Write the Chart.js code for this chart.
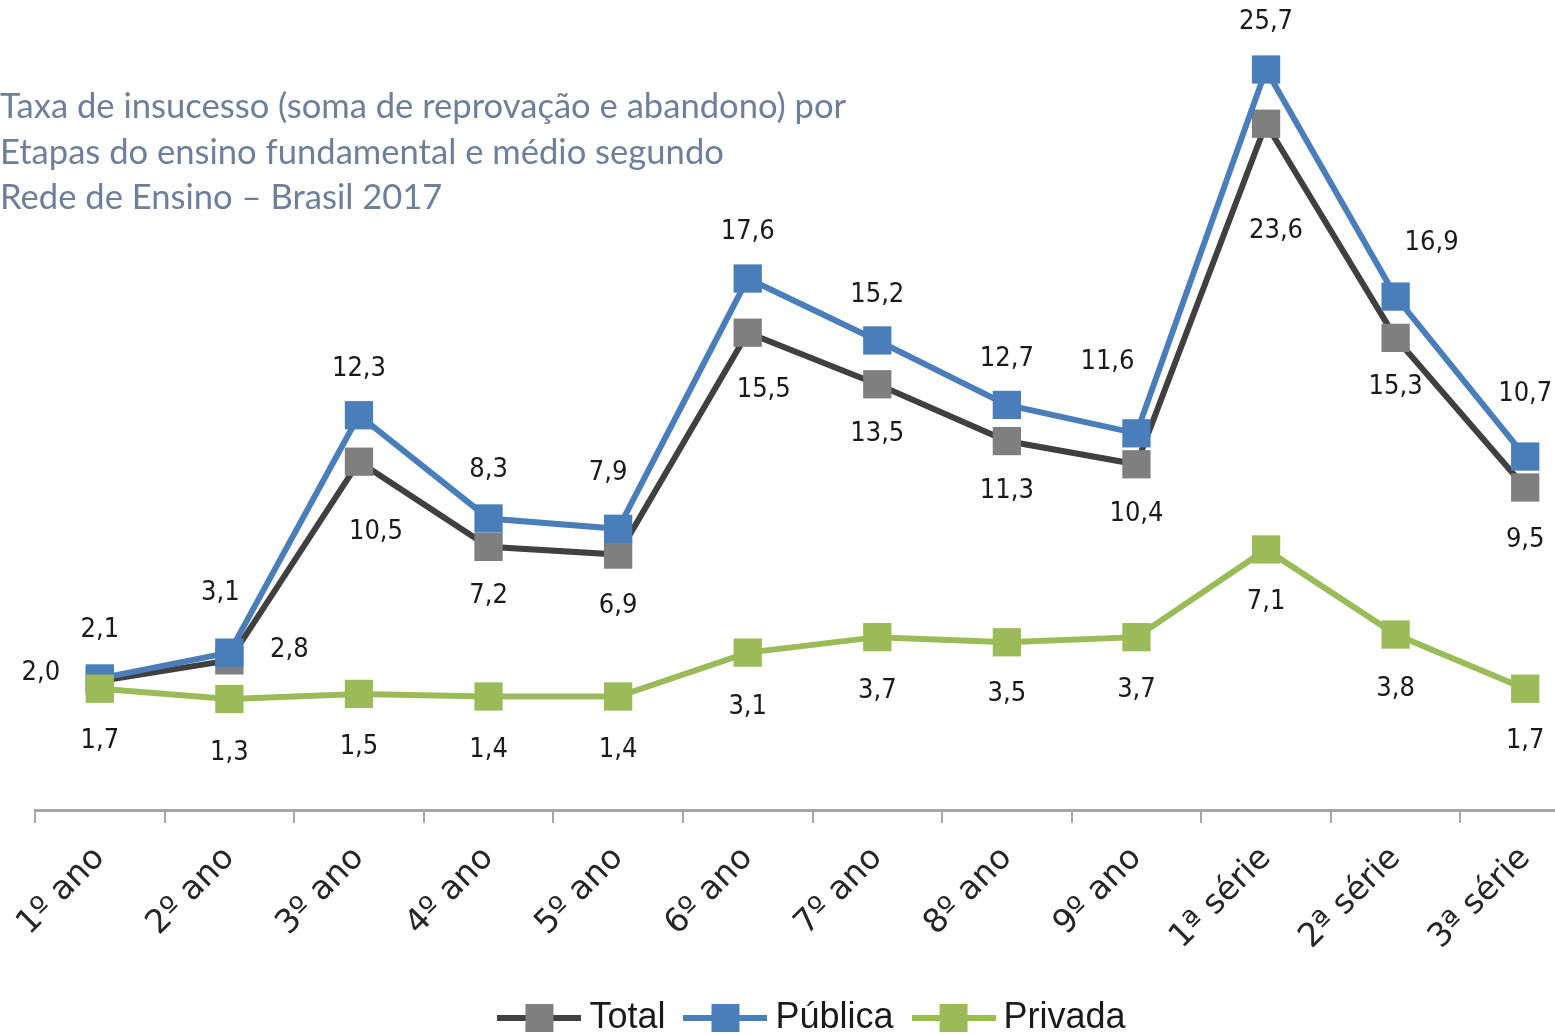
<!DOCTYPE html>
<html><head><meta charset="utf-8">
<script src="https://cdn.jsdelivr.net/npm/chart.js@4/dist/chart.umd.min.js"></script>
<style>html,body{margin:0;padding:0;overflow:hidden;background:#fff}#wrap{position:absolute;left:0;top:0;width:1610px;height:1046px}</style>
</head><body><div id="wrap"><canvas id="c" width="1610" height="1046"></canvas></div>
<script>
const categories = ['1º ano','2º ano','3º ano','4º ano','5º ano','6º ano','7º ano','8º ano','9º ano','1ª série','2ª série','3ª série'];
const totalValues   = [2.0, 2.8, 10.5, 7.2, 6.9, 15.5, 13.5, 11.3, 10.4, 23.6, 15.3, 9.5];
const publicaValues = [2.1, 3.1, 12.3, 8.3, 7.9, 17.6, 15.2, 12.7, 11.6, 25.7, 16.9, 10.7];
const privadaValues = [1.7, 1.3, 1.5, 1.4, 1.4, 3.1, 3.7, 3.5, 3.7, 7.1, 3.8, 1.7];
const seriesNames = ['Total', 'Pública', 'Privada'];
const titleLines = [
  'Taxa de insucesso (soma de reprovação e abandono) por',
  'Etapas do ensino fundamental e médio segundo',
  'Rede de Ensino – Brasil 2017'
];

// label placement (pixel offsets from each point)
const totalLabelOffsets = [[-59,-8],[60,-10],[17,70],[0,49],[0,51],[16,57],[0,50],[0,50],[0,50],[10,107],[0,49],[0,52]];
const publicaLabelOffsets = [[0,-48],[-9,-60],[0,-46],[0,-48],[-10,-56],[0,-47],[0,-45],[0,-46],[-29,-71],[0,-48],[36,-54],[0,-63]];
const privadaLabelOffsets = [[0,52],[0,54],[0,53],[0,54],[0,54],[0,54],[0,54],[0,52],[0,53],[0,53],[0,54],[0,52]];

const colors = {
  total: {line:'#404040', point:'#7f7f7f'},
  publica: {line:'#4a7ebb', point:'#4a7ebb'},
  privada: {line:'#9bbb59', point:'#9bbb59'}
};

function legendIcon(lineColor, pointColor){
  const c = document.createElement('canvas');
  c.width = 84; c.height = 32;
  const g = c.getContext('2d');
  g.strokeStyle = lineColor; g.lineWidth = 6;
  g.beginPath(); g.moveTo(0,16); g.lineTo(84,16); g.stroke();
  g.fillStyle = pointColor; g.fillRect(28,2,28,28);
  return c;
}

const labelPlugin = {
  id: 'valueLabels',
  afterDatasetsDraw(chart){
    const ctx = chart.ctx;
    const offs = [totalLabelOffsets, publicaLabelOffsets, privadaLabelOffsets];
    ctx.save();
    ctx.font = "27px 'DejaVu Sans Condensed', 'Liberation Sans', sans-serif";
    ctx.fillStyle = '#1a1a1a';
    ctx.textAlign = 'center';
    ctx.textBaseline = 'middle';
    chart.data.datasets.forEach((ds, i) => {
      const meta = chart.getDatasetMeta(i);
      meta.data.forEach((pt, j) => {
        const o = offs[i][j];
        ctx.fillText(ds.data[j].toFixed(1).replace('.', ','), pt.x + o[0], pt.y + o[1]);
      });
    });
    ctx.restore();
  }
};

const titlePlugin = {
  id: 'titleText',
  afterDraw(chart){
    const ctx = chart.ctx;
    ctx.save();
    ctx.font = "34.6px Lato, 'Open Sans', sans-serif";
    ctx.fillStyle = '#6e7f9c';
    ctx.textAlign = 'left';
    ctx.textBaseline = 'alphabetic';
    titleLines.forEach((t, i) => ctx.fillText(t, 0, 118 + i * 45.5));
    ctx.restore();
  }
};

const mk = (label, data, c, order) => ({
  label, data, order,
  borderColor: c.line, backgroundColor: c.point,
  borderWidth: 6, tension: 0,
  pointStyle: 'rect', pointRadius: 20, pointHoverRadius: 20,
  pointBackgroundColor: c.point, pointBorderColor: c.point, pointBorderWidth: 0
});

new Chart(document.getElementById('c'), {
  type: 'line',
  data: {
    labels: categories,
    datasets: [
      mk(seriesNames[0], totalValues, colors.total, 3),
      mk(seriesNames[1], publicaValues, colors.publica, 2),
      mk(seriesNames[2], privadaValues, colors.privada, 1)
    ]
  },
  options: {
    responsive: false,
    animation: false,
    events: [],
    devicePixelRatio: 1,
    layout: { padding: { left: 35, right: 12, top: 36, bottom: 0 } },
    scales: {
      x: {
        offset: true,
        grid: { display: true, drawOnChartArea: false, drawTicks: true, tickLength: 13, offset: true, color: '#a6a6a6', lineWidth: 2 },
        border: { display: true, color: '#a6a6a6', width: 3 },
        ticks: { autoSkip: false, maxRotation: 45, minRotation: 45, padding: 16, color: '#262626',
                 font: { family: "'DejaVu Sans', Verdana, sans-serif", size: 33 } },
        afterFit(scale){ scale.height = 162; }
      },
      y: { display: false, min: -3, max: 27 }
    },
    plugins: {
      tooltip: { enabled: false },
      legend: {
        display: true, position: 'bottom',
        labels: {
          usePointStyle: true, pointStyleWidth: 64, padding: 28, color: '#1a1a1a',
          font: { family: "'Liberation Sans', Arial, sans-serif", size: 36 },
          generateLabels(chart){
            return chart.data.datasets.map((ds, i) => ({
              text: ds.label, datasetIndex: i, hidden: false,
              pointStyle: legendIcon(ds.borderColor, ds.pointBackgroundColor),
              fillStyle: ds.pointBackgroundColor, strokeStyle: ds.borderColor, lineWidth: 0,
              fontColor: '#1a1a1a'
            }));
          }
        }
      }
    }
  },
  plugins: [labelPlugin, titlePlugin]
});
</script>
</body></html>
